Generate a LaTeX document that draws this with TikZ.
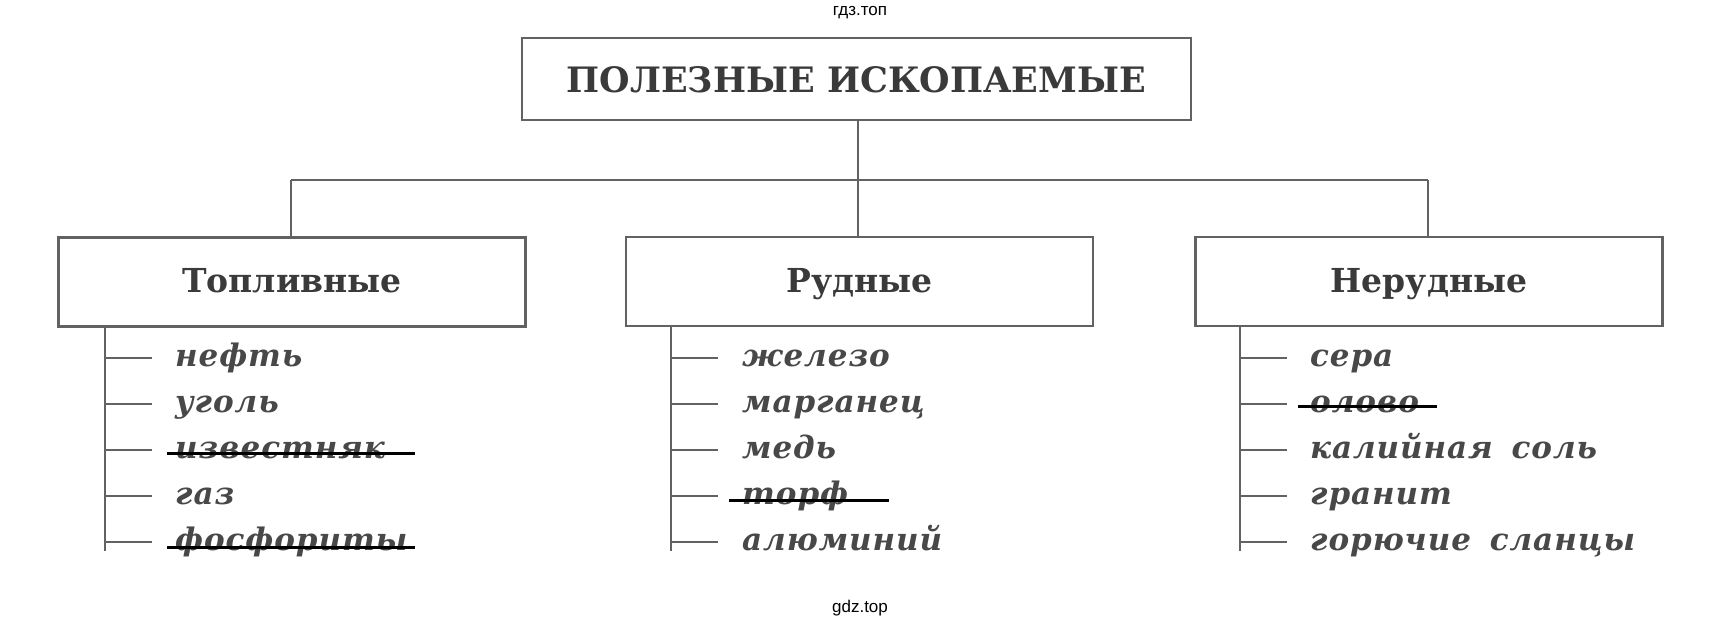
\documentclass[tikz,border=0pt]{standalone}
\usepackage{fontspec}
\setmainfont{DejaVu Serif}
\newfontfamily\wmfont{Liberation Sans}
\newfontfamily\headfont{DejaVu Serif}
\newfontfamily\itemfont[LetterSpace=3,WordSpace=1.6]{DejaVu Serif}
\definecolor{linegray}{HTML}{626262}
\definecolor{textgray}{HTML}{3A3A3A}
\definecolor{itemgray}{HTML}{484848}
\begin{document}
\begin{tikzpicture}[x=1pt,y=-1pt,
  conn/.style={draw=linegray, line width=2pt},
  box/.style={draw=linegray, line width=2.2pt, inner sep=0pt, text=textgray, font=\headfont\bfseries\fontsize{33}{33}\selectfont},
  topbox/.style={box, minimum width=669pt, minimum height=82pt, text height=27pt, text depth=1pt, font=\headfont\bfseries\fontsize{35}{35}\selectfont},
  catbox/.style={box, minimum width=467pt, minimum height=89pt, text height=25pt, text depth=4pt},
  item/.style={anchor=base west, inner sep=0pt, text=itemgray, font=\itemfont\bfseries\itshape\fontsize{31}{31}\selectfont},
  strike/.style={draw=black, line width=3pt},
  wm/.style={inner sep=0pt, font=\wmfont\fontsize{17}{17}\selectfont, text=black}
]
\useasboundingbox (0,0) rectangle (1720,630);
\fill[white] (0,0) rectangle (1720,630);

\node[wm] (wmtop) at (860,13) {гдз.топ};
\node[wm] (wmbot) at (860,608) {gdz.top};

\node[topbox] (root) at (856.5,79) {ПОЛЕЗНЫЕ ИСКОПАЕМЫЕ};
\node[catbox] (c1) at (292,282) {Топливные};
\node[catbox] (c2) at (859.5,281.5) {Рудные};
\node[catbox] (c3) at (1429,281.5) {Нерудные};

\coordinate (hub) at (858,180);
\coordinate (hl) at (291,180);
\coordinate (hr) at (1428,180);
\draw[conn] (root.south -| hub) -- (hub);
\draw[conn] (hl) -- (hr);
\draw[conn] (hl) -- (c1.north -| hl);
\draw[conn] (hub) -- (c2.north -| hub);
\draw[conn] (hr) -- (c3.north -| hr);

% column 1
\coordinate (v1) at (105,551);
\draw[conn] (c1.south -| v1) -- (v1);
\foreach \t [count=\i] in {нефть,уголь,известняк,газ,фосфориты}{
  \coordinate (t1\i) at (105,{358+46*(\i-1)});
  \node[item] (a\i) at (175,{366+46*(\i-1)}) {\t};
}
% column 2
\coordinate (v2) at (671,551);
\draw[conn] (c2.south -| v2) -- (v2);
\foreach \t [count=\i] in {железо,марганец,медь,торф,алюминий}{
  \coordinate (t2\i) at (671,{358+46*(\i-1)});
  \node[item] (b\i) at (742,{366+46*(\i-1)}) {\t};
}
% column 3
\coordinate (v3) at (1240,551);
\draw[conn] (c3.south -| v3) -- (v3);
\foreach \t [count=\i] in {сера,олово,калийная соль,гранит,горючие сланцы}{
  \coordinate (t3\i) at (1240,{358+46*(\i-1)});
  \node[item] (d\i) at (1310,{366+46*(\i-1)}) {\t};
}
\foreach \i in {1,...,5}{
  \draw[conn] (t1\i) -- ++(47,0);
  \draw[conn] (t2\i) -- ++(47,0);
  \draw[conn] (t3\i) -- ++(47,0);
}

% strike-throughs
\draw[strike] ([xshift=-8pt,yshift=5pt]a3.base west) -- ++(248,0);
\draw[strike] ([xshift=-8pt,yshift=3pt]a5.base west) -- ++(248,0);
\draw[strike] ([xshift=-13pt,yshift=4pt]b4.base west) -- ++(160,0);
\draw[strike] ([xshift=-12pt,yshift=6pt]d2.base west) -- ++(139,0);
\end{tikzpicture}
\end{document}
